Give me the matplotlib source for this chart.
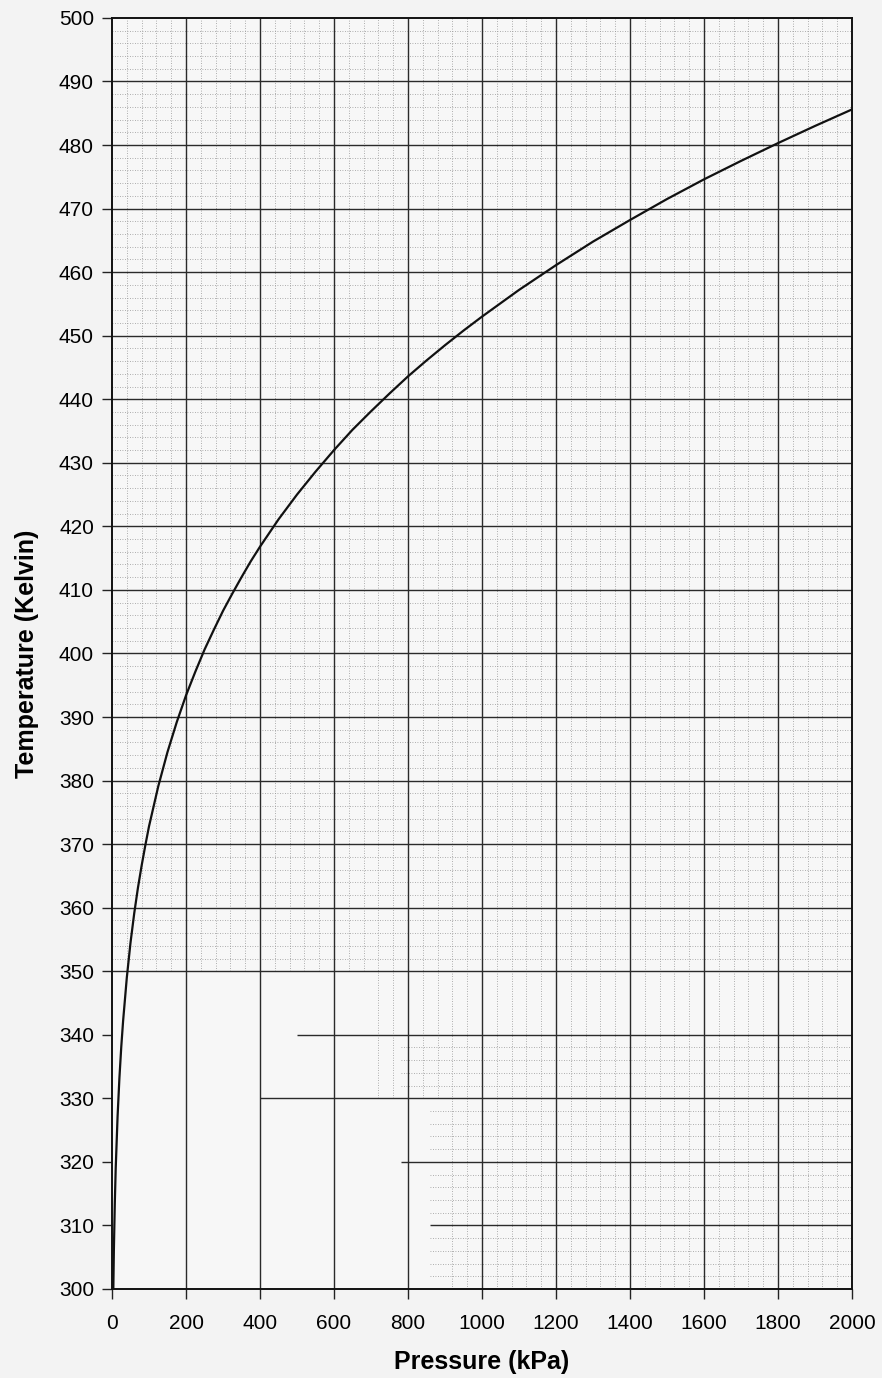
import numpy as np
import matplotlib.pyplot as plt

# Saturation curve (pressure in kPa, temperature in K)
pressure = [3.5, 5, 7.5, 10, 15, 20, 25, 30, 40, 50, 60, 70, 80, 90, 100, 125, 150, 175,
            200, 225, 250, 275, 300, 325, 350, 375, 400, 450, 500, 550, 600, 650, 700,
            750, 800, 850, 900, 950, 1000, 1100, 1200, 1300, 1400, 1500, 1600, 1700,
            1800, 1900, 2000]
temperature = [299.8, 306.0, 313.4, 319.0, 327.1, 333.2, 338.1, 342.2, 349.0, 354.5,
               359.1, 363.1, 366.6, 369.8, 372.8, 379.1, 384.5, 389.2, 393.4, 397.1,
               400.6, 403.7, 406.7, 409.4, 412.0, 414.5, 416.8, 421.1, 425.0, 428.6,
               432.0, 435.2, 438.1, 440.9, 443.6, 446.1, 448.5, 450.8, 453.0, 457.2,
               461.1, 464.8, 468.2, 471.5, 474.6, 477.5, 480.3, 483.0, 485.6]

x_ticks = [0, 200, 400, 600, 800, 1000, 1200, 1400, 1600, 1800, 2000]
y_ticks = list(range(300, 501, 10))

plt.rcParams['font.family'] = ['Liberation Sans', 'DejaVu Sans']

fig = plt.figure(figsize=(8.82, 13.78), dpi=100, facecolor='#f3f3f3')
ax = fig.add_axes([0.127, 0.0646, 0.839, 0.9224])
ax.set_facecolor('#f7f7f7')

ax.plot(pressure, temperature, color='#111111', linewidth=1.6, zorder=4)

ax.set_xlim(0, 2000)
ax.set_ylim(300, 500)
ax.set_xticks(x_ticks)
ax.set_yticks(y_ticks)

# graph paper: the scanned sheet has lost most of its grid in the lower left corner
major_kw = dict(color='#2a2a2a', linewidth=1.0, zorder=2)
minor_kw = dict(color='#959595', linewidth=0.6, linestyles=(0, (1, 2)), zorder=1)
faded_start = {340: 500, 330: 400, 320: 780, 310: 860}

for xv in x_ticks[1:-1]:
    ax.vlines(xv, 300, 500, **major_kw)
for yv in y_ticks[1:-1]:
    ax.hlines(yv, faded_start.get(yv, 0), 2000, **major_kw)

for xv in np.arange(40, 2000, 40):
    if xv % 200 == 0:
        continue
    if xv < 700:
        ymin = 350
    elif xv < 900:
        ymin = 330
    else:
        ymin = 300
    ax.vlines(xv, ymin, 500, **minor_kw)
for yv in np.arange(302, 500, 2):
    if yv % 10 == 0 or 340 < yv < 350:
        continue
    if yv > 350:
        xmin = 0
    elif yv > 330:
        xmin = 780
    else:
        xmin = 860
    ax.hlines(yv, xmin, 2000, **minor_kw)

ax.tick_params(axis='both', which='major', labelsize=15, length=7, width=1,
               direction='out', color='#222222')
ax.tick_params(axis='y', pad=6)
ax.tick_params(axis='x', pad=11)

for spine in ax.spines.values():
    spine.set_linewidth(1.4)
    spine.set_color('#111111')
    spine.set_zorder(5)

ax.set_xlabel('Pressure (kPa)', fontsize=18, fontweight='bold', labelpad=12)
ax.set_ylabel('Temperature (Kelvin)', fontsize=18, fontweight='bold', labelpad=14)

fig.savefig('out.png', dpi=100, facecolor=fig.get_facecolor())
